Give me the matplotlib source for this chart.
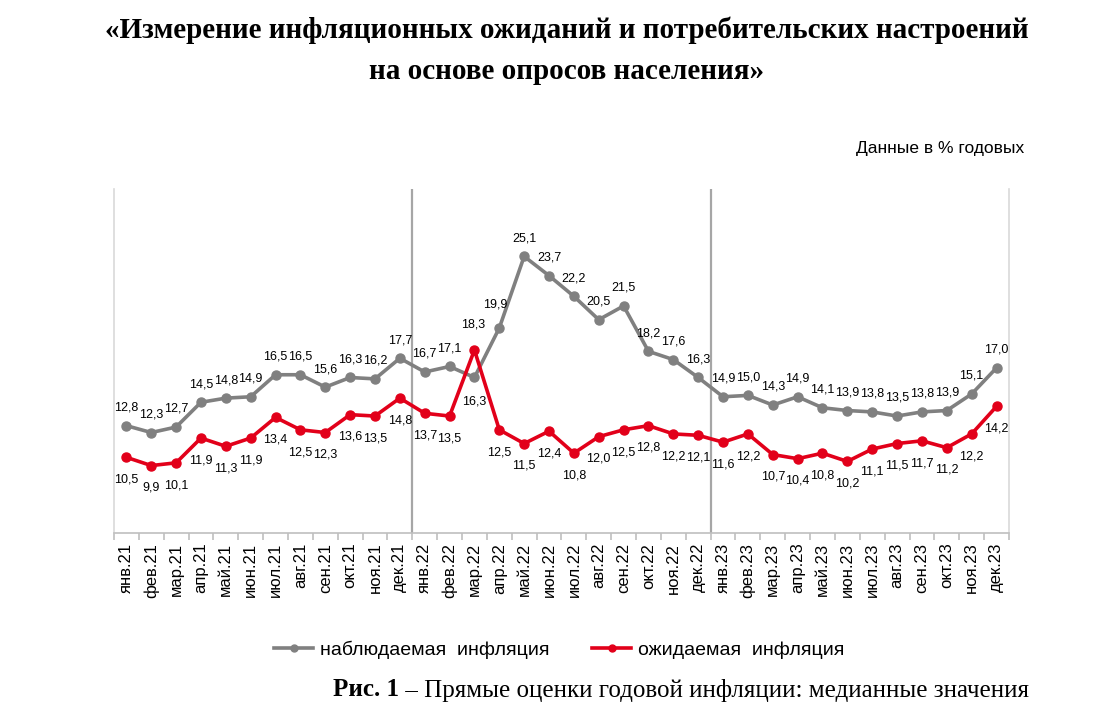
import matplotlib
matplotlib.use("Agg")
import matplotlib.pyplot as plt
from matplotlib.lines import Line2D
import numpy as np

# Months jan.21 .. dec.23
months = ["янв", "фев", "мар", "апр", "май", "июн",
          "июл", "авг", "сен", "окт", "ноя", "дек"]
years = ["21", "22", "23"]
tick_labels = [f"{m}.{y}" for y in years for m in months]

observed = [12.8, 12.3, 12.7, 14.5, 14.8, 14.9, 16.5, 16.5, 15.6, 16.3, 16.2, 17.7,
            16.7, 17.1, 16.3, 19.9, 25.1, 23.7, 22.2, 20.5, 21.5, 18.2, 17.6, 16.3,
            14.9, 15.0, 14.3, 14.9, 14.1, 13.9, 13.8, 13.5, 13.8, 13.9, 15.1, 17.0]
expected = [10.5, 9.9, 10.1, 11.9, 11.3, 11.9, 13.4, 12.5, 12.3, 13.6, 13.5, 14.8,
            13.7, 13.5, 18.3, 12.5, 11.5, 12.4, 10.8, 12.0, 12.5, 12.8, 12.2, 12.1,
            11.6, 12.2, 10.7, 10.4, 10.8, 10.2, 11.1, 11.5, 11.7, 11.2, 12.2, 14.2]

GRAY = "#808080"
RED = "#e2001a"
SANS = "Liberation Sans"
SERIF = "Liberation Serif"


def fmt(v):
    return f"{v:.1f}".replace(".", ",")


fig = plt.figure(figsize=(11.14, 7.12), dpi=100)
ax = fig.add_axes([0.1023, 0.2514, 0.8034, 0.4832])

x = np.arange(len(tick_labels))
ax.plot(x, observed, color=GRAY, lw=2.6, marker="o", ms=6.5, zorder=3)
ax.plot(x, expected, color=RED, lw=2.6, marker="o", ms=6.5, zorder=4)

ax.set_xlim(-0.5, len(x) - 0.5)
ax.set_ylim(5, 30)

# year separators
for xs in (11.5, 23.5):
    ax.axvline(xs, color="#a6a6a6", lw=1.6, zorder=1)

# data labels: observed above, expected below (except mar.22)
for i, v in enumerate(observed):
    dy = 13
    dx = 0
    if i == 14:
        dy = -17
    if i == 15:
        dx = -3
        dy = 17
    ax.annotate(fmt(v), (i, v), xytext=(dx, dy), textcoords="offset points",
                ha="center", va="center", fontsize=9, family=SANS)
for i, v in enumerate(expected):
    dy = -16
    dx = 0
    if i == 14:
        dy = 18
        dx = -1
    ax.annotate(fmt(v), (i, v), xytext=(dx, dy), textcoords="offset points",
                ha="center", va="center", fontsize=9, family=SANS)

# axes styling
ax.spines["top"].set_visible(False)
for s in ("left", "right"):
    ax.spines[s].set_color("#d9d9d9")
    ax.spines[s].set_linewidth(1.2)
ax.spines["bottom"].set_color("#bfbfbf")
ax.spines["bottom"].set_linewidth(1.2)
ax.set_yticks([])
ax.set_xticks(x)
ax.set_xticklabels(tick_labels, rotation=90, fontsize=12, family=SANS)
ax.tick_params(axis="x", which="major", length=0, pad=7)
ax.set_xticks(np.arange(-0.5, len(x), 1.0), minor=True)
ax.tick_params(axis="x", which="minor", length=5, color="#bfbfbf", width=1.2)

fig.text(0.509, 0.958, "«Измерение инфляционных ожиданий и потребительских настроений",
         ha="center", va="center", fontsize=21, fontweight="bold", family=SERIF)
fig.text(0.509, 0.899, "на основе опросов населения»",
         ha="center", va="center", fontsize=21, fontweight="bold", family=SERIF)

fig.text(0.919, 0.792, "Данные в % годовых", ha="right", va="center",
         fontsize=12.5, family=SANS)

handles = [Line2D([], [], color=GRAY, lw=2.6, marker="o", ms=5),
           Line2D([], [], color=RED, lw=2.6, marker="o", ms=5)]
fig.legend(handles, ["наблюдаемая  инфляция", "ожидаемая  инфляция"],
           loc="center", bbox_to_anchor=(0.502, 0.087), ncol=2, frameon=False,
           prop={"family": SANS, "size": 14}, handlelength=2.0,
           handletextpad=0.35, columnspacing=2.2)

# caption: bold part + regular part
cap_y = 1 - 690 / 712
t1 = fig.text(333 / 1114, cap_y, "Рис. 1", ha="left", va="center",
              fontsize=18, fontweight="bold", family=SERIF)
fig.canvas.draw()
bb = t1.get_window_extent(renderer=fig.canvas.get_renderer())
fig.text(bb.x1 / 1114, cap_y, " – Прямые оценки годовой инфляции: медианные значения",
         ha="left", va="center", fontsize=18, family=SERIF)

fig.savefig("out.png", dpi=100)
